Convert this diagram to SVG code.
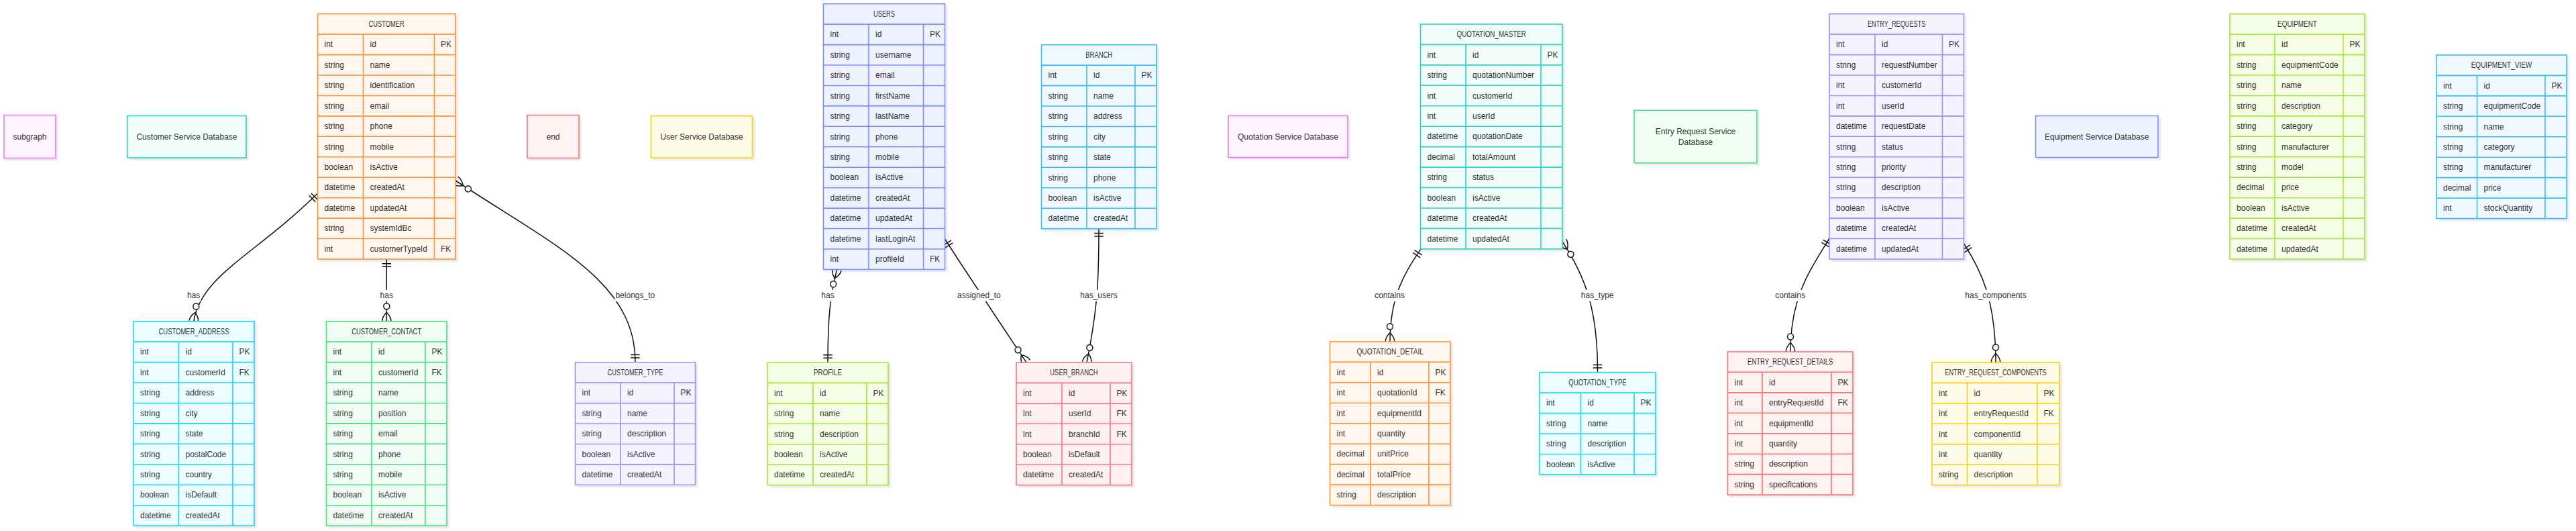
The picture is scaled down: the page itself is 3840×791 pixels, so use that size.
<svg xmlns="http://www.w3.org/2000/svg" width="3840" height="791" viewBox="0 0 3840 791">
<style>
text{font-family:"Liberation Sans",Arial,sans-serif;font-size:12px;fill:#333;dominant-baseline:central}
.hd{text-anchor:middle}
.nd text,.lbl text{text-anchor:middle}
.ent>rect,.nd>rect{stroke-width:1.6;filter:url(#sh)}
.ent>path{fill:none;stroke-width:1.6}
.lbl rect{fill:#fff}
.or>rect{fill:#fff7ed}.or>rect,.or>path{stroke:#fb923c}
.ind>rect{fill:#eef2ff}.ind>rect,.ind>path{stroke:#818cf8}
.sky>rect{fill:#f0f9ff}.sky>rect,.sky>path{stroke:#38bdf8}
.teal>rect{fill:#f0fdfa}.teal>rect,.teal>path{stroke:#2dd4bf}
.vio>rect{fill:#f5f3ff}.vio>rect,.vio>path{stroke:#a78bfa}
.lime>rect{fill:#f7fee7}.lime>rect,.lime>path{stroke:#a3e635}
.cyan>rect{fill:#ecfeff}.cyan>rect,.cyan>path{stroke:#22d3ee}
.grn>rect{fill:#f0fdf4}.grn>rect,.grn>path{stroke:#4ade80}
.rose>rect{fill:#fff1f2}.rose>rect,.rose>path{stroke:#fb7185}
.red>rect{fill:#fef2f2}.red>rect,.red>path{stroke:#f87171}
.yel>rect{fill:#fefce8}.yel>rect,.yel>path{stroke:#facc15}
.fuch>rect{fill:#fdf4ff}.fuch>rect,.fuch>path{stroke:#e879f9}
</style>
<defs>
<filter id="sh" x="-10%" y="-10%" width="130%" height="130%"><feDropShadow dx="3" dy="3" stdDeviation="1" flood-color="#000" flood-opacity="0.09"/></filter>
<marker id="one" markerUnits="userSpaceOnUse" viewBox="-20 -10 22 20" refX="0" refY="0" markerWidth="22" markerHeight="20" orient="auto-start-reverse">
<path d="M-11.25,-6.75V6.75M-6.75,-6.75V6.75" fill="none" stroke="#111" stroke-width="1.5"/>
</marker>
<marker id="many" markerUnits="userSpaceOnUse" viewBox="-30 -10 32 20" refX="0" refY="0" markerWidth="32" markerHeight="20" orient="auto-start-reverse">
<path d="M-13.5,0Q-6.75,-6.75 0,-6.75M-13.5,0Q-6.75,6.75 0,6.75" fill="none" stroke="#111" stroke-width="1.5"/>
<circle cx="-22.5" cy="0" r="4.5" fill="#fff" stroke="#111" stroke-width="1.5"/>
</marker>
</defs>
<rect width="3840" height="791" fill="#fff"/>

<g id="connectors" fill="none" stroke="#111" stroke-width="1.5">
<path d="M473.5,288 C380,380 300,410 288.7,478.7" marker-start="url(#one)" marker-end="url(#many)"/>
<path d="M576.3,386 V478.7" marker-start="url(#one)" marker-end="url(#many)"/>
<path d="M679,269 C830,368 947,420 947,539.7" marker-start="url(#many)" marker-end="url(#one)"/>
<path d="M1247.5,401.4 C1238,440 1234,470 1234,540" marker-start="url(#many)" marker-end="url(#one)"/>
<path d="M1408.5,356 C1440,405 1490,480 1530,540" marker-start="url(#one)" marker-end="url(#many)"/>
<path d="M1638,340.7 C1638,420 1636,460 1620,540" marker-start="url(#one)" marker-end="url(#many)"/>
<path d="M2118,370.8 C2095,405 2072,440 2072,509" marker-start="url(#one)" marker-end="url(#many)"/>
<path d="M2329,360 C2362,410 2382,460 2381.5,554.7" marker-start="url(#many)" marker-end="url(#one)"/>
<path d="M2727,355 C2700,400 2669,440 2669,524" marker-start="url(#one)" marker-end="url(#many)"/>
<path d="M2927.5,363 C2955,405 2975,450 2975,540" marker-start="url(#one)" marker-end="url(#many)"/>
<g class="lbl" stroke="none">
<rect x="278" y="431.8" width="21.5" height="17"/><text x="288.7" y="440.3">has</text>
<rect x="565.6" y="431.8" width="21.5" height="17"/><text x="576.3" y="440.3">has</text>
<rect x="916.4" y="431.8" width="60.8" height="17"/><text x="946.8" y="440.3">belongs_to</text>
<rect x="1223.3" y="431.8" width="21.5" height="17"/><text x="1234" y="440.3">has</text>
<rect x="1426" y="431.8" width="66.8" height="17"/><text x="1459.4" y="440.3">assigned_to</text>
<rect x="1609.3" y="431.8" width="57.4" height="17"/><text x="1638" y="440.3">has_users</text>
<rect x="2048.1" y="431.8" width="46.8" height="17"/><text x="2071.5" y="440.3">contains</text>
<rect x="2355.8" y="431.8" width="50.8" height="17"/><text x="2381.2" y="440.3">has_type</text>
<rect x="2645.2" y="431.8" width="46.8" height="17"/><text x="2668.6" y="440.3">contains</text>
<rect x="2928.3" y="431.8" width="93.4" height="17"/><text x="2975" y="440.3">has_components</text>
</g>
</g>

<g id="node-subgraph" class="nd fuch"><rect x="6" y="171.5" width="77" height="64"/><text x="44.5" y="203.5">subgraph</text></g>
<g id="node-customer-db" class="nd teal"><rect x="190" y="172.5" width="177" height="62.5"/><text x="278.5" y="203.7">Customer Service Database</text></g>
<g id="node-end" class="nd red"><rect x="786" y="171.5" width="77" height="64"/><text x="824.5" y="203.5">end</text></g>
<g id="node-user-db" class="nd yel"><rect x="970.5" y="172.5" width="151" height="62.5"/><text x="1046" y="203.7">User Service Database</text></g>
<g id="node-quotation-db" class="nd fuch"><rect x="1831" y="172.5" width="178" height="62"/><text x="1920" y="203.5">Quotation Service Database</text></g>
<g id="node-entry-db" class="nd grn"><rect x="2436" y="164.3" width="183" height="78.4"/><text x="2527.5" y="195.5">Entry Request Service</text><text x="2527.5" y="211.5">Database</text></g>
<g id="node-equipment-db" class="nd ind"><rect x="3034.5" y="172.5" width="182.5" height="62"/><text x="3125.7" y="203.5">Equipment Service Database</text></g>

<g id="CUSTOMER" class="ent or" transform="translate(473.5,20.7)">
<rect width="205.5" height="365.3"/>
<path d="M0,30.4H205.5M0,60.9H205.5M0,91.3H205.5M0,121.8H205.5M0,152.2H205.5M0,182.6H205.5M0,213.1H205.5M0,243.5H205.5M0,274H205.5M0,304.4H205.5M0,334.8H205.5M68,30.4V365.3M174,30.4V365.3"/>
<text class="hd" x="102.7" y="15.2" textLength="53.3" lengthAdjust="spacingAndGlyphs">CUSTOMER</text>
<text x="10" y="45.7">int</text><text x="78" y="45.7">id</text><text x="183.5" y="45.7">PK</text>
<text x="10" y="76.1">string</text><text x="78" y="76.1">name</text>
<text x="10" y="106.5">string</text><text x="78" y="106.5">identification</text>
<text x="10" y="137">string</text><text x="78" y="137">email</text>
<text x="10" y="167.4">string</text><text x="78" y="167.4">phone</text>
<text x="10" y="197.9">string</text><text x="78" y="197.9">mobile</text>
<text x="10" y="228.3">boolean</text><text x="78" y="228.3">isActive</text>
<text x="10" y="258.7">datetime</text><text x="78" y="258.7">createdAt</text>
<text x="10" y="289.2">datetime</text><text x="78" y="289.2">updatedAt</text>
<text x="10" y="319.6">string</text><text x="78" y="319.6">systemIdBc</text>
<text x="10" y="350.1">int</text><text x="78" y="350.1">customerTypeId</text><text x="183.5" y="350.1">FK</text>
</g>

<g id="USERS" class="ent ind" transform="translate(1227.5,5.7)">
<rect width="181" height="395.7"/>
<path d="M0,30.4H181M0,60.9H181M0,91.3H181M0,121.8H181M0,152.2H181M0,182.6H181M0,213.1H181M0,243.5H181M0,274H181M0,304.4H181M0,334.8H181M0,365.3H181M67.5,30.4V395.7M149,30.4V395.7"/>
<text class="hd" x="90.5" y="15.2" textLength="32" lengthAdjust="spacingAndGlyphs">USERS</text>
<text x="10" y="45.7">int</text><text x="77.5" y="45.7">id</text><text x="158.5" y="45.7">PK</text>
<text x="10" y="76.1">string</text><text x="77.5" y="76.1">username</text>
<text x="10" y="106.5">string</text><text x="77.5" y="106.5">email</text>
<text x="10" y="137">string</text><text x="77.5" y="137">firstName</text>
<text x="10" y="167.4">string</text><text x="77.5" y="167.4">lastName</text>
<text x="10" y="197.9">string</text><text x="77.5" y="197.9">phone</text>
<text x="10" y="228.3">string</text><text x="77.5" y="228.3">mobile</text>
<text x="10" y="258.7">boolean</text><text x="77.5" y="258.7">isActive</text>
<text x="10" y="289.2">datetime</text><text x="77.5" y="289.2">createdAt</text>
<text x="10" y="319.6">datetime</text><text x="77.5" y="319.6">updatedAt</text>
<text x="10" y="350.1">datetime</text><text x="77.5" y="350.1">lastLoginAt</text>
<text x="10" y="380.5">int</text><text x="77.5" y="380.5">profileId</text><text x="158.5" y="380.5">FK</text>
</g>

<g id="BRANCH" class="ent sky" transform="translate(1552.5,66.7)">
<rect width="171.5" height="274"/>
<path d="M0,30.4H171.5M0,60.9H171.5M0,91.3H171.5M0,121.8H171.5M0,152.2H171.5M0,182.6H171.5M0,213.1H171.5M0,243.5H171.5M67.5,30.4V274M139.5,30.4V274"/>
<text class="hd" x="85.7" y="15.2" textLength="39.7" lengthAdjust="spacingAndGlyphs">BRANCH</text>
<text x="10" y="45.7">int</text><text x="77.5" y="45.7">id</text><text x="149" y="45.7">PK</text>
<text x="10" y="76.1">string</text><text x="77.5" y="76.1">name</text>
<text x="10" y="106.5">string</text><text x="77.5" y="106.5">address</text>
<text x="10" y="137">string</text><text x="77.5" y="137">city</text>
<text x="10" y="167.4">string</text><text x="77.5" y="167.4">state</text>
<text x="10" y="197.9">string</text><text x="77.5" y="197.9">phone</text>
<text x="10" y="228.3">boolean</text><text x="77.5" y="228.3">isActive</text>
<text x="10" y="258.7">datetime</text><text x="77.5" y="258.7">createdAt</text>
</g>

<g id="QUOTATION_MASTER" class="ent teal" transform="translate(2117.5,36)">
<rect width="211.5" height="334.8"/>
<path d="M0,30.4H211.5M0,60.9H211.5M0,91.3H211.5M0,121.8H211.5M0,152.2H211.5M0,182.6H211.5M0,213.1H211.5M0,243.5H211.5M0,274H211.5M0,304.4H211.5M67.5,30.4V334.8M179.5,30.4V334.8"/>
<text class="hd" x="105.7" y="15.2" textLength="103.3" lengthAdjust="spacingAndGlyphs">QUOTATION_MASTER</text>
<text x="10" y="45.7">int</text><text x="77.5" y="45.7">id</text><text x="189" y="45.7">PK</text>
<text x="10" y="76.1">string</text><text x="77.5" y="76.1">quotationNumber</text>
<text x="10" y="106.5">int</text><text x="77.5" y="106.5">customerId</text>
<text x="10" y="137">int</text><text x="77.5" y="137">userId</text>
<text x="10" y="167.4">datetime</text><text x="77.5" y="167.4">quotationDate</text>
<text x="10" y="197.9">decimal</text><text x="77.5" y="197.9">totalAmount</text>
<text x="10" y="228.3">string</text><text x="77.5" y="228.3">status</text>
<text x="10" y="258.7">boolean</text><text x="77.5" y="258.7">isActive</text>
<text x="10" y="289.2">datetime</text><text x="77.5" y="289.2">createdAt</text>
<text x="10" y="319.6">datetime</text><text x="77.5" y="319.6">updatedAt</text>
</g>

<g id="ENTRY_REQUESTS" class="ent vio" transform="translate(2727,20.7)">
<rect width="200.5" height="365.3"/>
<path d="M0,30.4H200.5M0,60.9H200.5M0,91.3H200.5M0,121.8H200.5M0,152.2H200.5M0,182.6H200.5M0,213.1H200.5M0,243.5H200.5M0,274H200.5M0,304.4H200.5M0,334.8H200.5M68,30.4V365.3M168.5,30.4V365.3"/>
<text class="hd" x="100.2" y="15.2" textLength="86.5" lengthAdjust="spacingAndGlyphs">ENTRY_REQUESTS</text>
<text x="10" y="45.7">int</text><text x="78" y="45.7">id</text><text x="178" y="45.7">PK</text>
<text x="10" y="76.1">string</text><text x="78" y="76.1">requestNumber</text>
<text x="10" y="106.5">int</text><text x="78" y="106.5">customerId</text>
<text x="10" y="137">int</text><text x="78" y="137">userId</text>
<text x="10" y="167.4">datetime</text><text x="78" y="167.4">requestDate</text>
<text x="10" y="197.9">string</text><text x="78" y="197.9">status</text>
<text x="10" y="228.3">string</text><text x="78" y="228.3">priority</text>
<text x="10" y="258.7">string</text><text x="78" y="258.7">description</text>
<text x="10" y="289.2">boolean</text><text x="78" y="289.2">isActive</text>
<text x="10" y="319.6">datetime</text><text x="78" y="319.6">createdAt</text>
<text x="10" y="350.1">datetime</text><text x="78" y="350.1">updatedAt</text>
</g>

<g id="EQUIPMENT" class="ent lime" transform="translate(3324,20.7)">
<rect width="201" height="365.3"/>
<path d="M0,30.4H201M0,60.9H201M0,91.3H201M0,121.8H201M0,152.2H201M0,182.6H201M0,213.1H201M0,243.5H201M0,274H201M0,304.4H201M0,334.8H201M67,30.4V365.3M169,30.4V365.3"/>
<text class="hd" x="100.5" y="15.2" textLength="58.8" lengthAdjust="spacingAndGlyphs">EQUIPMENT</text>
<text x="10" y="45.7">int</text><text x="77" y="45.7">id</text><text x="178.5" y="45.7">PK</text>
<text x="10" y="76.1">string</text><text x="77" y="76.1">equipmentCode</text>
<text x="10" y="106.5">string</text><text x="77" y="106.5">name</text>
<text x="10" y="137">string</text><text x="77" y="137">description</text>
<text x="10" y="167.4">string</text><text x="77" y="167.4">category</text>
<text x="10" y="197.9">string</text><text x="77" y="197.9">manufacturer</text>
<text x="10" y="228.3">string</text><text x="77" y="228.3">model</text>
<text x="10" y="258.7">decimal</text><text x="77" y="258.7">price</text>
<text x="10" y="289.2">boolean</text><text x="77" y="289.2">isActive</text>
<text x="10" y="319.6">datetime</text><text x="77" y="319.6">createdAt</text>
<text x="10" y="350.1">datetime</text><text x="77" y="350.1">updatedAt</text>
</g>

<g id="EQUIPMENT_VIEW" class="ent sky" transform="translate(3632,82)">
<rect width="194" height="243.5"/>
<path d="M0,30.4H194M0,60.9H194M0,91.3H194M0,121.8H194M0,152.2H194M0,182.6H194M0,213.1H194M60.5,30.4V243.5M162,30.4V243.5"/>
<text class="hd" x="97" y="15.2" textLength="90.6" lengthAdjust="spacingAndGlyphs">EQUIPMENT_VIEW</text>
<text x="10" y="45.7">int</text><text x="70.5" y="45.7">id</text><text x="171.5" y="45.7">PK</text>
<text x="10" y="76.1">string</text><text x="70.5" y="76.1">equipmentCode</text>
<text x="10" y="106.5">string</text><text x="70.5" y="106.5">name</text>
<text x="10" y="137">string</text><text x="70.5" y="137">category</text>
<text x="10" y="167.4">string</text><text x="70.5" y="167.4">manufacturer</text>
<text x="10" y="197.9">decimal</text><text x="70.5" y="197.9">price</text>
<text x="10" y="228.3">int</text><text x="70.5" y="228.3">stockQuantity</text>
</g>

<g id="CUSTOMER_ADDRESS" class="ent cyan" transform="translate(199,478.7)">
<rect width="180" height="304.4"/>
<path d="M0,30.4H180M0,60.9H180M0,91.3H180M0,121.8H180M0,152.2H180M0,182.6H180M0,213.1H180M0,243.5H180M0,274H180M67.5,30.4V304.4M148,30.4V304.4"/>
<text class="hd" x="90" y="15.2" textLength="105" lengthAdjust="spacingAndGlyphs">CUSTOMER_ADDRESS</text>
<text x="10" y="45.7">int</text><text x="77.5" y="45.7">id</text><text x="157.5" y="45.7">PK</text>
<text x="10" y="76.1">int</text><text x="77.5" y="76.1">customerId</text><text x="157.5" y="76.1">FK</text>
<text x="10" y="106.5">string</text><text x="77.5" y="106.5">address</text>
<text x="10" y="137">string</text><text x="77.5" y="137">city</text>
<text x="10" y="167.4">string</text><text x="77.5" y="167.4">state</text>
<text x="10" y="197.9">string</text><text x="77.5" y="197.9">postalCode</text>
<text x="10" y="228.3">string</text><text x="77.5" y="228.3">country</text>
<text x="10" y="258.7">boolean</text><text x="77.5" y="258.7">isDefault</text>
<text x="10" y="289.2">datetime</text><text x="77.5" y="289.2">createdAt</text>
</g>

<g id="CUSTOMER_CONTACT" class="ent grn" transform="translate(486.5,478.7)">
<rect width="179.5" height="304.4"/>
<path d="M0,30.4H179.5M0,60.9H179.5M0,91.3H179.5M0,121.8H179.5M0,152.2H179.5M0,182.6H179.5M0,213.1H179.5M0,243.5H179.5M0,274H179.5M67.5,30.4V304.4M147.5,30.4V304.4"/>
<text class="hd" x="89.7" y="15.2" textLength="104" lengthAdjust="spacingAndGlyphs">CUSTOMER_CONTACT</text>
<text x="10" y="45.7">int</text><text x="77.5" y="45.7">id</text><text x="157" y="45.7">PK</text>
<text x="10" y="76.1">int</text><text x="77.5" y="76.1">customerId</text><text x="157" y="76.1">FK</text>
<text x="10" y="106.5">string</text><text x="77.5" y="106.5">name</text>
<text x="10" y="137">string</text><text x="77.5" y="137">position</text>
<text x="10" y="167.4">string</text><text x="77.5" y="167.4">email</text>
<text x="10" y="197.9">string</text><text x="77.5" y="197.9">phone</text>
<text x="10" y="228.3">string</text><text x="77.5" y="228.3">mobile</text>
<text x="10" y="258.7">boolean</text><text x="77.5" y="258.7">isActive</text>
<text x="10" y="289.2">datetime</text><text x="77.5" y="289.2">createdAt</text>
</g>

<g id="CUSTOMER_TYPE" class="ent vio" transform="translate(857.5,539.7)">
<rect width="179" height="182.6"/>
<path d="M0,30.4H179M0,60.9H179M0,91.3H179M0,121.8H179M0,152.2H179M67.5,30.4V182.6M147.5,30.4V182.6"/>
<text class="hd" x="89.5" y="15.2" textLength="83" lengthAdjust="spacingAndGlyphs">CUSTOMER_TYPE</text>
<text x="10" y="45.7">int</text><text x="77.5" y="45.7">id</text><text x="157" y="45.7">PK</text>
<text x="10" y="76.1">string</text><text x="77.5" y="76.1">name</text>
<text x="10" y="106.5">string</text><text x="77.5" y="106.5">description</text>
<text x="10" y="137">boolean</text><text x="77.5" y="137">isActive</text>
<text x="10" y="167.4">datetime</text><text x="77.5" y="167.4">createdAt</text>
</g>

<g id="PROFILE" class="ent lime" transform="translate(1144,540)">
<rect width="180" height="182.6"/>
<path d="M0,30.4H180M0,60.9H180M0,91.3H180M0,121.8H180M0,152.2H180M68,30.4V182.6M148,30.4V182.6"/>
<text class="hd" x="90" y="15.2" textLength="42" lengthAdjust="spacingAndGlyphs">PROFILE</text>
<text x="10" y="45.7">int</text><text x="78" y="45.7">id</text><text x="157.5" y="45.7">PK</text>
<text x="10" y="76.1">string</text><text x="78" y="76.1">name</text>
<text x="10" y="106.5">string</text><text x="78" y="106.5">description</text>
<text x="10" y="137">boolean</text><text x="78" y="137">isActive</text>
<text x="10" y="167.4">datetime</text><text x="78" y="167.4">createdAt</text>
</g>

<g id="USER_BRANCH" class="ent rose" transform="translate(1515,540)">
<rect width="172" height="182.6"/>
<path d="M0,30.4H172M0,60.9H172M0,91.3H172M0,121.8H172M0,152.2H172M68,30.4V182.6M140,30.4V182.6"/>
<text class="hd" x="86" y="15.2" textLength="71.4" lengthAdjust="spacingAndGlyphs">USER_BRANCH</text>
<text x="10" y="45.7">int</text><text x="78" y="45.7">id</text><text x="149.5" y="45.7">PK</text>
<text x="10" y="76.1">int</text><text x="78" y="76.1">userId</text><text x="149.5" y="76.1">FK</text>
<text x="10" y="106.5">int</text><text x="78" y="106.5">branchId</text><text x="149.5" y="106.5">FK</text>
<text x="10" y="137">boolean</text><text x="78" y="137">isDefault</text>
<text x="10" y="167.4">datetime</text><text x="78" y="167.4">createdAt</text>
</g>

<g id="QUOTATION_DETAIL" class="ent or" transform="translate(1982.5,509)">
<rect width="179.5" height="243.5"/>
<path d="M0,30.4H179.5M0,60.9H179.5M0,91.3H179.5M0,121.8H179.5M0,152.2H179.5M0,182.6H179.5M0,213.1H179.5M60.5,30.4V243.5M147.5,30.4V243.5"/>
<text class="hd" x="89.7" y="15.2" textLength="99.5" lengthAdjust="spacingAndGlyphs">QUOTATION_DETAIL</text>
<text x="10" y="45.7">int</text><text x="70.5" y="45.7">id</text><text x="157" y="45.7">PK</text>
<text x="10" y="76.1">int</text><text x="70.5" y="76.1">quotationId</text><text x="157" y="76.1">FK</text>
<text x="10" y="106.5">int</text><text x="70.5" y="106.5">equipmentId</text>
<text x="10" y="137">int</text><text x="70.5" y="137">quantity</text>
<text x="10" y="167.4">decimal</text><text x="70.5" y="167.4">unitPrice</text>
<text x="10" y="197.9">decimal</text><text x="70.5" y="197.9">totalPrice</text>
<text x="10" y="228.3">string</text><text x="70.5" y="228.3">description</text>
</g>

<g id="QUOTATION_TYPE" class="ent cyan" transform="translate(2295,554.7)">
<rect width="173" height="152.2"/>
<path d="M0,30.4H173M0,60.9H173M0,91.3H173M0,121.8H173M61.5,30.4V152.2M141,30.4V152.2"/>
<text class="hd" x="86.5" y="15.2" textLength="86.6" lengthAdjust="spacingAndGlyphs">QUOTATION_TYPE</text>
<text x="10" y="45.7">int</text><text x="71.5" y="45.7">id</text><text x="150.5" y="45.7">PK</text>
<text x="10" y="76.1">string</text><text x="71.5" y="76.1">name</text>
<text x="10" y="106.5">string</text><text x="71.5" y="106.5">description</text>
<text x="10" y="137">boolean</text><text x="71.5" y="137">isActive</text>
</g>

<g id="ENTRY_REQUEST_DETAILS" class="ent red" transform="translate(2575.5,524)">
<rect width="186.5" height="213.1"/>
<path d="M0,30.4H186.5M0,60.9H186.5M0,91.3H186.5M0,121.8H186.5M0,152.2H186.5M0,182.6H186.5M51.5,30.4V213.1M154.5,30.4V213.1"/>
<text class="hd" x="93.2" y="15.2" textLength="127.3" lengthAdjust="spacingAndGlyphs">ENTRY_REQUEST_DETAILS</text>
<text x="10" y="45.7">int</text><text x="61.5" y="45.7">id</text><text x="164" y="45.7">PK</text>
<text x="10" y="76.1">int</text><text x="61.5" y="76.1">entryRequestId</text><text x="164" y="76.1">FK</text>
<text x="10" y="106.5">int</text><text x="61.5" y="106.5">equipmentId</text>
<text x="10" y="137">int</text><text x="61.5" y="137">quantity</text>
<text x="10" y="167.4">string</text><text x="61.5" y="167.4">description</text>
<text x="10" y="197.9">string</text><text x="61.5" y="197.9">specifications</text>
</g>

<g id="ENTRY_REQUEST_COMPONENTS" class="ent yel" transform="translate(2880,540)">
<rect width="190" height="182.6"/>
<path d="M0,30.4H190M0,60.9H190M0,91.3H190M0,121.8H190M0,152.2H190M52.5,30.4V182.6M157,30.4V182.6"/>
<text class="hd" x="95" y="15.2" textLength="151.5" lengthAdjust="spacingAndGlyphs">ENTRY_REQUEST_COMPONENTS</text>
<text x="10" y="45.7">int</text><text x="62.5" y="45.7">id</text><text x="166.5" y="45.7">PK</text>
<text x="10" y="76.1">int</text><text x="62.5" y="76.1">entryRequestId</text><text x="166.5" y="76.1">FK</text>
<text x="10" y="106.5">int</text><text x="62.5" y="106.5">componentId</text>
<text x="10" y="137">int</text><text x="62.5" y="137">quantity</text>
<text x="10" y="167.4">string</text><text x="62.5" y="167.4">description</text>
</g>
</svg>
